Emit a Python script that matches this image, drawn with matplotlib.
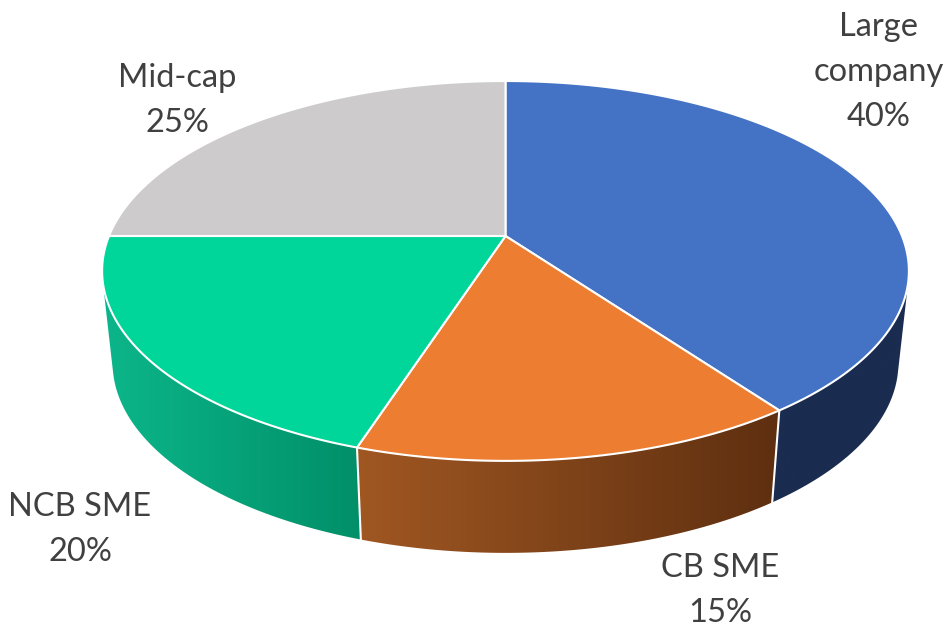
# -*- coding: utf-8 -*-
import numpy as np
import matplotlib
matplotlib.use("Agg")
import matplotlib.pyplot as plt
from matplotlib.colors import LinearSegmentedColormap
from matplotlib.patches import Polygon

labels = ["Large\ncompany", "CB SME", "NCB SME", "Mid-cap"]
values = [40, 15, 20, 25]

top_colors = ["#4472C4", "#ED7D31", "#00D59A", "#CDCBCB"]
side_left = ["#1A2C50", "#A05722", "#0CB68A", "#8A8888"]
side_right = ["#1A2C50", "#5E2F10", "#018F68", "#8A8888"]
label_pos = [(879, 72), (720, 590.5), (80, 529.5), (177, 100.5)]

# perspective of the disc, fitted on the slice corners (pixels)
cx, cy = 505.5, 236
ax_x, ax_y, k = 396.5, 183.5, 0.184
depth, shrink = 92, 0.974


def rim(angle):
    # angle in degrees, clockwise from the top
    a = np.radians(angle)
    d = 1 + k * np.cos(a)
    return cx + ax_x * np.sin(a) / d, cy - ax_y * np.cos(a) / d


def low_rim(angle):
    x, y = rim(angle)
    return cx + (x - cx) * shrink, y + depth


def facing(ang):
    # keep only the angles where the wall looks at the viewer
    x1, y1 = rim(ang)
    x2, y2 = low_rim(ang)
    dx = np.gradient(x1)
    dy = np.gradient(y1)
    return ang[dx * (y2 - y1) - dy * (x2 - x1) < 0]


fig = plt.figure(figsize=(9.53, 6.28), dpi=100)
ax = fig.add_axes([0, 0, 1, 1])

edges = np.cumsum([0] + values) / sum(values) * 360

# side wall, horizontal gradient clipped to each slice
for i in range(len(values)):
    ang = facing(np.linspace(edges[i], edges[i + 1], 400))
    if len(ang) < 2:
        continue
    x1, y1 = rim(ang)
    x2, y2 = low_rim(ang)
    px = np.r_[x1, x2[::-1]]
    py = np.r_[y1, y2[::-1]]
    wall = Polygon(np.c_[px, py], closed=True, transform=ax.transData, fc="none", ec="none")
    ax.add_patch(wall)
    cmap = LinearSegmentedColormap.from_list("w", [side_left[i], side_right[i]])
    im = ax.imshow(np.linspace(0, 1, 256)[None, :], cmap=cmap, aspect="auto",
                   extent=(px.min(), px.max(), py.max(), py.min()), zorder=1)
    im.set_clip_path(wall)

ax.set_xlim(0, 953)
ax.set_ylim(628, 0)
ax.axis("off")

# white joints on the wall
for e in edges[:-1]:
    if len(facing(np.array([e - 0.1, e, e + 0.1]))) == 0:
        continue
    x1, y1 = rim(e)
    x2, y2 = low_rim(e)
    ax.plot([x1, x2], [y1, y2], color="white", lw=1.5, zorder=2)

# top of the pie
for i in range(len(values)):
    ang = np.linspace(edges[i], edges[i + 1], 200)
    x, y = rim(ang)
    ax.fill(np.r_[cx, x], np.r_[cy, y], facecolor=top_colors[i], edgecolor="white",
            lw=1.5, joinstyle="round", zorder=3)

for i in range(len(values)):
    txt = labels[i] + "\n" + str(values[i]) + "%"
    ax.text(label_pos[i][0], label_pos[i][1], txt, ha="center", va="center",
            family="Lato", fontsize=23.5, color="#404040", linespacing=1.64, zorder=4)

fig.savefig("out.png", dpi=100)
